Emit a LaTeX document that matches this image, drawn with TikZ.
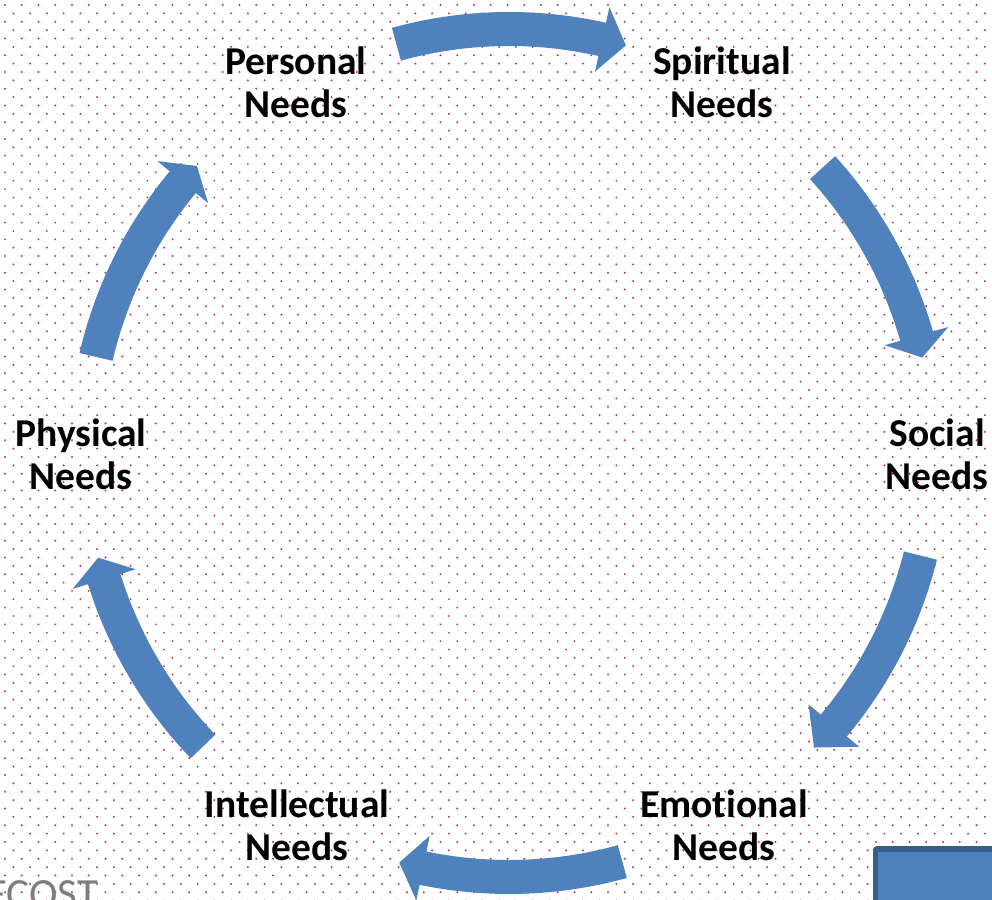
\documentclass[tikz,border=0pt]{standalone}
\usepackage{fontspec}
\setmainfont{Carlito}[Ligatures=NoCommon]
\definecolor{arrowblue}{HTML}{4F81BD}
\definecolor{arrowdark}{HTML}{385D8A}
\definecolor{dotred}{RGB}{185,55,80}
\definecolor{costgrey}{RGB}{125,125,125}
\newcommand\needarrow[3]{%
  \fill[arrowblue,shift={(509,446)}]
    (#1:441) arc[start angle=#1,end angle=#2,radius=441]
    -- (#2:457) -- (#3:424) -- (#2:391) -- (#2:407)
    arc[start angle=#2,end angle=#1,radius=407] -- cycle;}
\begin{document}
\begin{tikzpicture}[x=1pt,y=1pt,
  needlabel/.style={align=center,inner sep=0pt,font=\bfseries\fontsize{39.5}{43}\selectfont}]
\useasboundingbox (0,0) rectangle (992,899);
\clip (0,0) rectangle (992,899);
\fill[white] (0,0) rectangle (992,899);
% dotted background
\foreach \k in {0,...,107} {
  \pgfmathsetmacro\rowy{894-8.37*\k}
  \pgfmathsetmacro\rowx{5+mod(\k,2)*8.375}
  \fill[dotred] \foreach \j in {0,...,59} { ({\rowx+16.75*\j},\rowy) circle (1.1) };
}
% arrows
\needarrow{105.4}{77.3}{74}
\needarrow{42.3}{16}{13}
\needarrow{-14}{-40}{-44}
\needarrow{-74.5}{-101.7}{-105}
\needarrow{223.8}{197.3}{194.3}
\needarrow{166.9}{140.3}{137.4}
% labels
\node[needlabel] (personal) at (296,817) {Personal\\Needs};
\node[needlabel] (spiritual) at (722,817) {Spiritual\\Needs};
\node[needlabel] (physical) at (81,445) {Physical\\Needs};
\node[needlabel] (social) at (937,445) {Social\\Needs};
\node[needlabel] (intellectual) at (297,74) {Intellectual\\Needs};
\node[needlabel] (emotional) at (724,74) {Emotional\\Needs};
% fragment text bottom-left
\node[anchor=base west,inner sep=0pt,text=costgrey,font=\fontsize{43}{43}\selectfont] (cost) at (-14,-9) {ECOST};
% button bottom-right
\fill[arrowdark,rounded corners=4] (873,-20) rectangle (1010,53);
\fill[arrowblue] (878,-20) rectangle (1010,47);
\end{tikzpicture}
\end{document}
